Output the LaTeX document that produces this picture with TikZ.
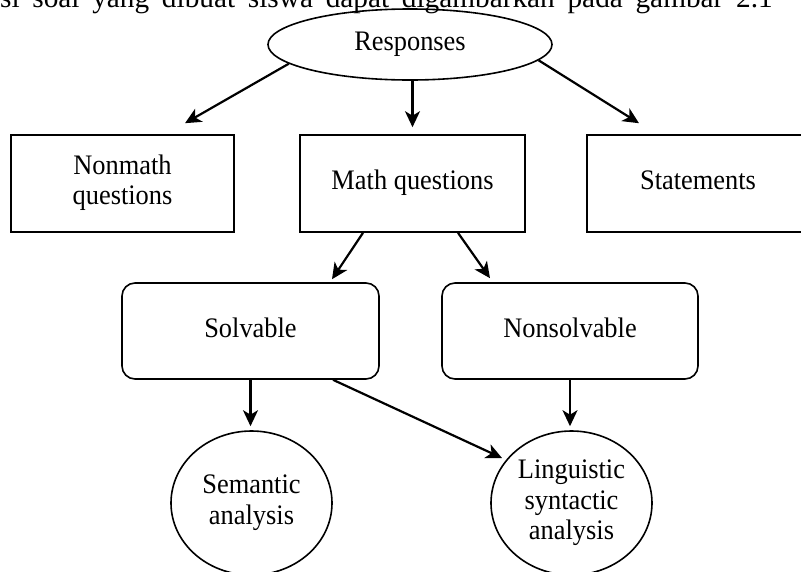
\documentclass[tikz,border=0pt]{standalone}
\usepackage{fontspec}
\setmainfont{Liberation Serif}
\usetikzlibrary{arrows.meta,shapes.geometric,calc}
\newcommand{\vtxt}[1]{\scalebox{1}[1.07]{\begin{tabular}{@{}c@{}}#1\end{tabular}}}
\begin{document}
\begin{tikzpicture}[x=1pt,y=1pt,
  lbl/.style={font=\fontsize{26.4}{28.5}\selectfont, align=center, inner sep=0pt},
  sqbox/.style={lbl, draw, line width=1.6pt, rectangle, minimum height=97pt},
  rbox/.style={lbl, draw, line width=1.6pt, rectangle, rounded corners=13pt, minimum width=257pt, minimum height=96pt},
  oval/.style={lbl, draw, line width=1.6pt, ellipse, minimum width=161pt, minimum height=144pt},
  arr/.style={line width=2.2pt, -{Stealth[length=16pt,width=15pt,inset=4.5pt]}}
]
\path[use as bounding box, clip] (0,0) rectangle (801,-571);
\node[anchor=base west, inner sep=0pt, text height=0pt, text depth=0pt, font=\fontsize{29.3}{35}\selectfont] (toptext) at (0,-7) {\spaceskip=12.7pt si soal yang dibuat siswa dapat digambarkan pada gambar 2.1};
\node[lbl, draw, line width=1.6pt, ellipse, minimum width=284pt, minimum height=71pt] (resp) at (410,-44.5) {\vtxt{Responses}};
\node[sqbox, minimum width=223pt] (nonmath) at (122.5,-183.5) {\vtxt{Nonmath\\questions}};
\node[sqbox, minimum width=225pt] (math) at (412.5,-183.5) {\vtxt{Math questions}};
\node[sqbox, minimum width=222pt] (stat) at (698,-183.5) {\vtxt{Statements}};
\node[rbox] (solv) at (250.5,-331) {\vtxt{Solvable}};
\node[rbox, minimum width=256pt] (nons) at (570,-331) {\vtxt{Nonsolvable}};
\node[oval] (sem) at (251.5,-503) {\vtxt{Semantic\\analysis}};
\node[oval] (ling) at (571.5,-503) {\vtxt{Linguistic\\syntactic\\analysis}};
\draw[arr] (resp.189.5) -- ([shift={(62.5,11)}]nonmath.north);
\draw[arr] (resp.south -| math.north) -- ([yshift=7pt]math.north);
\draw[arr] (resp.353.2) -- ([shift={(-59,11)}]stat.north);
\draw[arr] ([xshift=-49.5pt]math.south) -- ([shift={(81.5,3)}]solv.north);
\draw[arr] ([xshift=45.5pt]math.south) -- ([shift={(-80,4)}]nons.north);
\draw[arr] (solv.south) -- ([yshift=4pt]solv.south |- sem.north);
\draw[arr] ([xshift=82.5pt]solv.south) -- ([shift={(-69.5,45)}]ling.center);
\draw[arr] (nons.south) -- ([yshift=4pt]nons.south |- ling.north);
\end{tikzpicture}
\end{document}
